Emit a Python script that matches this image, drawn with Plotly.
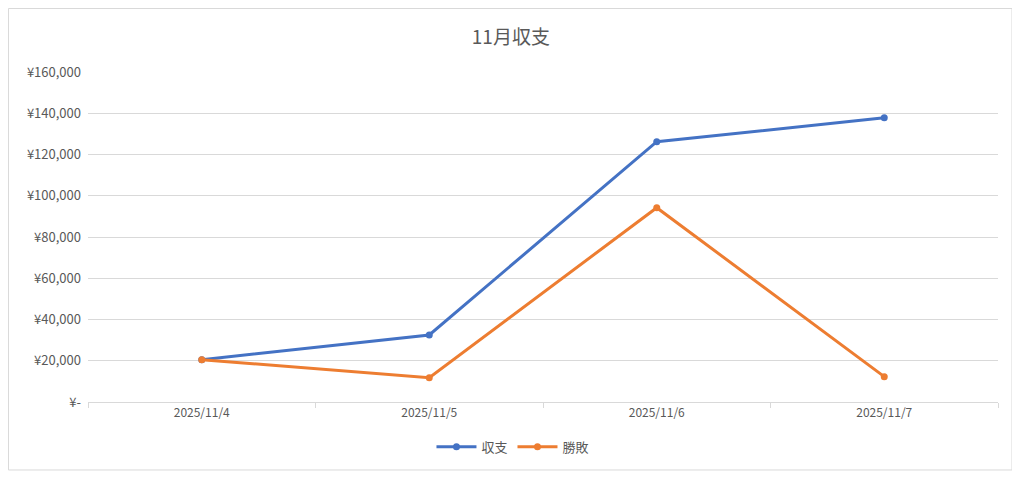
import plotly.graph_objects as go

# data
dates = ["2025/11/4", "2025/11/5", "2025/11/6", "2025/11/7"]
shushi = [20500, 32500, 126200, 137800]
shouhai = [20500, 11800, 94200, 12300]
ytick_vals = [0, 20000, 40000, 60000, 80000, 100000, 120000, 140000, 160000]
ytick_text = ["¥-", "¥20,000", "¥40,000", "¥60,000", "¥80,000", "¥100,000",
              "¥120,000", "¥140,000", "¥160,000"]

FONT = "Noto Sans CJK JP, Noto Sans, sans-serif"
GREY = "#595959"

fig = go.Figure()
fig.add_trace(go.Scatter(x=dates, y=shushi, name="収支", mode="lines+markers",
                         line=dict(color="#4472C4", width=3),
                         marker=dict(size=7, color="#4472C4")))
fig.add_trace(go.Scatter(x=dates, y=shouhai, name="勝敗", mode="lines+markers",
                         line=dict(color="#ED7D31", width=3),
                         marker=dict(size=7, color="#ED7D31")))

# outer chart border
fig.add_shape(type="rect", xref="paper", yref="paper",
              x0=-0.0874, x1=1.0154, y0=-0.206, y1=1.1924,
              line=dict(color="#D9D9D9", width=1), layer="below")

# the page puts the figure 8px in from the top-left, margins allow for that
fig.update_layout(
    width=1020, height=482,
    margin=dict(l=80, r=30, t=64, b=88),
    paper_bgcolor="white", plot_bgcolor="white",
    font=dict(family=FONT, color=GREY, size=12),
    title=dict(text="11月収支", x=0.493, xanchor="center", y=0.94, yanchor="middle",
               font=dict(size=19, color=GREY, family=FONT)),
    showlegend=True,
    legend=dict(orientation="h", x=0.467, xanchor="center", y=-0.136, yanchor="middle",
                font=dict(size=13, color=GREY), itemwidth=40),
    xaxis=dict(type="category", range=[-0.5, 3.5], showgrid=False,
               showline=True, linecolor="#D9D9D9", linewidth=1,
               ticks="outside", tickson="boundaries", ticklen=5, tickcolor="#D9D9D9",
               tickfont=dict(size=12, color=GREY)),
    yaxis=dict(range=[0, 160000], tickvals=ytick_vals, ticktext=ytick_text,
               showgrid=True, gridcolor="#D9D9D9", gridwidth=1,
               zeroline=False, showline=False, ticks="", ticklabelstandoff=6,
               tickfont=dict(size=13, color=GREY)),
)

fig.write_html("out.html")
